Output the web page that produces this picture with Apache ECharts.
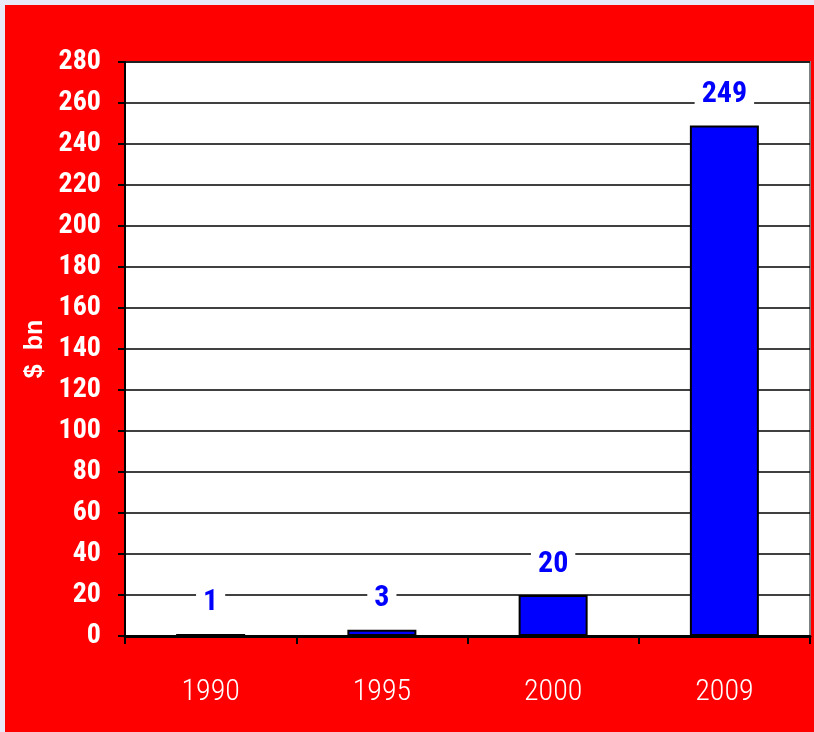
<!DOCTYPE html>
<html>
<head>
<meta charset="utf-8">
<script src="https://cdn.jsdelivr.net/npm/echarts@6/dist/echarts.min.js"></script>
<style>
  html, body { margin: 0; padding: 0; background: #e8eaf8; }
  #chart { position: absolute; left: 5px; top: 5px; width: 809px; height: 727px; }
</style>
</head>
<body>
<div id="chart"></div>
<script>
"use strict";
const years = ['1990', '1995', '2000', '2009'];
const values = [1, 3, 20, 249];
const narrow = '"Roboto Condensed", "Open Sans Condensed", sans-serif';

const chart = echarts.init(document.getElementById('chart'));
const option = {
    backgroundColor: '#ff0000',
    animation: false,
    grid: {
        left: 120,
        top: 57,
        right: 4,
        bottom: 96,
        show: true,
        backgroundColor: '#ffffff',
        borderColor: '#808080',
        borderWidth: 2
    },
    xAxis: {
        type: 'category',
        data: years,
        axisLine: { lineStyle: { color: '#000', width: 3 } },
        axisTick: { show: true, length: 8, lineStyle: { color: '#000', width: 2 } },
        axisLabel: {
            color: '#fff',
            fontFamily: narrow,
            fontWeight: 300,
            fontSize: 30,
            margin: 41
        }
    },
    yAxis: {
        type: 'value',
        min: 0,
        max: 280,
        interval: 20,
        name: '$  bn',
        nameLocation: 'middle',
        nameRotate: 90,
        nameGap: 70,
        nameTextStyle: {
            color: '#fff',
            fontFamily: 'Liberation Sans, Arial, sans-serif',
            fontWeight: 'bold',
            fontSize: 25
        },
        axisLine: { show: true, lineStyle: { color: '#000', width: 2 } },
        axisTick: { show: true, length: 7, lineStyle: { color: '#000', width: 2 } },
        splitLine: { lineStyle: { color: '#000', width: 1.5 } },
        axisLabel: {
            color: '#fff',
            fontFamily: narrow,
            fontWeight: 'bold',
            fontSize: 28,
            margin: 24
        }
    },
    series: [{
        type: 'bar',
        data: values,
        barWidth: 69,
        itemStyle: { color: '#0000ff', borderColor: '#000', borderWidth: 2 },
        label: {
            show: true,
            position: 'top',
            distance: 16,
            color: '#0000ff',
            fontFamily: narrow,
            fontWeight: 'bold',
            fontSize: 30,
            backgroundColor: '#ffffff',
            padding: [0, 7, 0, 7]
        }
    }]
};
chart.setOption(option);
</script>
</body>
</html>
